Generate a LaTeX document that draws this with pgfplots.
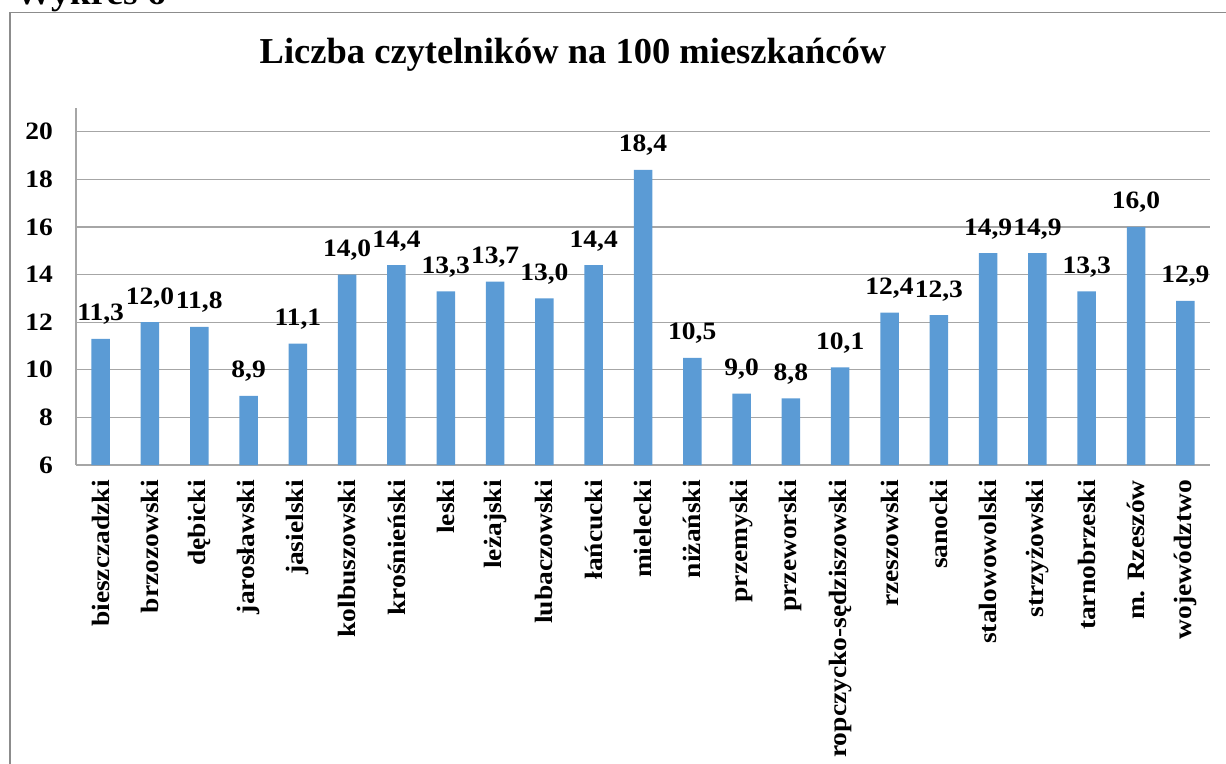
\documentclass[border=0pt]{standalone}
\usepackage{pgfplots}
\pgfplotsset{compat=1.18}
\usepackage{fontspec}
\setmainfont{Liberation Serif}
\newfontfamily\wide{Liberation Serif}[FakeStretch=1.1]
\definecolor{barblue}{HTML}{5B9BD5}
\definecolor{gridgray}{HTML}{A6A6A6}
\begin{document}
\begin{tikzpicture}
\path[use as bounding box] (0pt,0pt) rectangle (1226pt,763pt);
\draw[gray!90, line width=1.3pt] (10pt,-20pt) -- (10pt,750.5pt) -- (1240pt,750.5pt);
\node[anchor=base west, font=\wide\bfseries\fontsize{34}{38}\selectfont, inner sep=0pt] at (15pt,758pt) {Wykres 6};
\node[anchor=base, font=\bfseries\fontsize{36.5}{40}\selectfont, inner sep=0pt] at (573pt,699pt) {Liczba czytelników na 100 mieszkańców};
\begin{axis}[
  at={(76pt,298pt)}, anchor=south west,
  scale only axis, width=1134pt, height=357pt,
  xmin=-0.5, xmax=22.5, ymin=6, ymax=21,
  ytick={6,8,...,20},
  xtick={0,...,22},
  xticklabels={bieszczadzki,brzozowski,dębicki,jarosławski,jasielski,kolbuszowski,krośnieński,leski,leżajski,lubaczowski,łańcucki,mielecki,niżański,przemyski,przeworski,ropczycko-sędziszowski,rzeszowski,sanocki,stalowowolski,strzyżowski,tarnobrzeski,m. Rzeszów,województwo},
  axis x line*=bottom, axis y line*=left,
  axis line style={gridgray, line width=1.2pt, -},
  ymajorgrids, grid style={gridgray, line width=1.2pt},
  major tick length=0pt,
  tick label style={font=\wide\bfseries\fontsize{25}{28}\selectfont},
  xticklabel style={rotate=90, anchor=east, inner sep=0pt},
  xticklabel shift=15pt,
  yticklabel style={inner sep=0pt, anchor=east},
  yticklabel shift=23pt,
  /pgf/number format/assume math mode=true,
  ybar, bar width=18.5pt,
  nodes near coords={\pgfmathprintnumber[fixed,fixed zerofill,precision=1,use comma,assume math mode=true]{\pgfplotspointmeta}},
  every node near coord/.append style={font=\wide\bfseries\fontsize{25}{28}\selectfont, anchor=base, inner sep=0pt, yshift=18pt},
  clip=false,
]
\addplot[fill=barblue, draw=none] coordinates {
(0,11.3) (1,12.0) (2,11.8) (3,8.9) (4,11.1) (5,14.0) (6,14.4) (7,13.3) (8,13.7) (9,13.0) (10,14.4) (11,18.4) (12,10.5) (13,9.0) (14,8.8) (15,10.1) (16,12.4) (17,12.3) (18,14.9) (19,14.9) (20,13.3) (21,16.0) (22,12.9)};
\end{axis}
\end{tikzpicture}
\end{document}
